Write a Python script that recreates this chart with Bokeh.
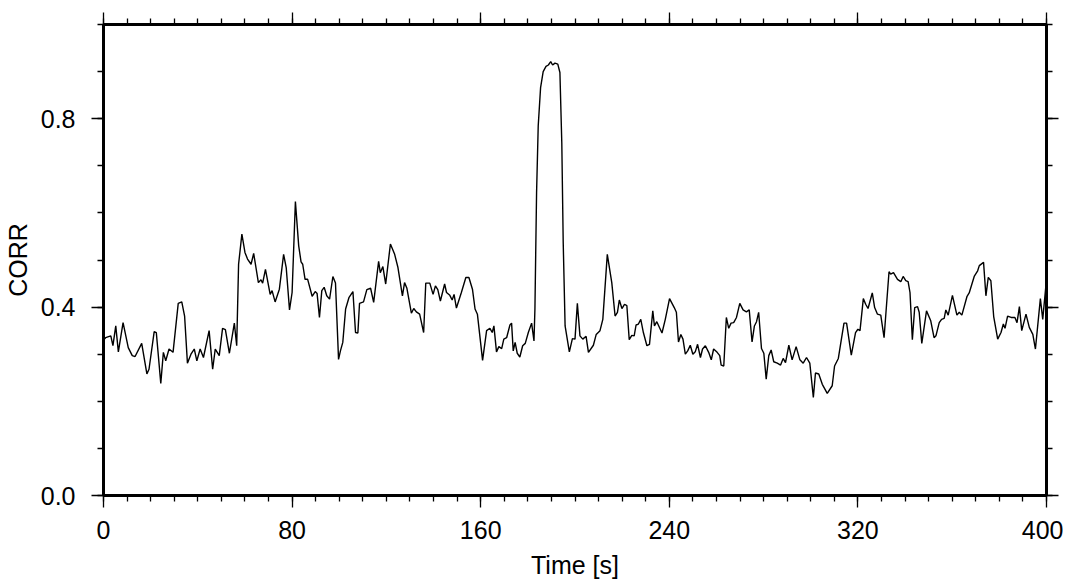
from bokeh.plotting import figure
from bokeh.models import Range1d, LinearAxis, FixedTicker, PrintfTickFormatter, CustomJSTickFormatter
from bokeh.embed import file_html
from bokeh.resources import INLINE

# Time [s]
time_s = [
    0.0, 0.9, 3.1, 4.0, 5.2, 6.3, 8.3, 10.5, 12.2, 13.4, 16.2, 18.4, 19.3, 21.5, 22.4, 24.3,
    25.4, 26.4, 27.8, 29.5, 31.7, 33.2, 34.4, 35.6, 37.1, 38.5, 39.6, 41.0, 42.4, 44.8, 46.3,
    47.4, 49.1, 50.5, 51.7, 53.4, 55.5, 56.5, 57.3, 58.7, 60.0, 61.1, 62.6, 63.7, 65.7, 66.8,
    67.5, 68.7, 70.7, 71.5, 72.8, 74.6, 76.4, 77.5, 78.9, 80.0, 81.4,
    82.8, 83.8, 84.5, 85.5, 86.6, 88.5, 89.8, 90.6, 91.6, 92.6, 93.6, 94.7, 95.9, 97.3, 98.4,
    99.7, 100.5, 101.5, 102.7, 104.1, 105.8, 106.9, 107.9, 108.6, 110.3, 111.7, 113.3, 114.6,
    116.7, 117.4, 118.5, 119.7, 121.7, 123.5, 124.9, 126.8, 127.7, 128.7, 130.6, 131.6, 132.7,
    134.1, 135.8, 136.7, 138.4, 139.8, 140.8, 141.8, 142.9, 144.7, 145.5, 146.9, 147.9, 148.7,
    149.7, 151.8, 153.7, 155.0, 156.5, 157.6, 158.6, 160.8,
    162.5, 163.9, 164.9, 165.6, 166.7, 167.7, 168.9, 169.8, 171.0, 172.4, 173.1, 173.8, 174.6,
    175.5, 176.6, 177.8, 178.9, 180.2, 181.6, 182.6, 183.0, 183.7, 184.4, 185.4, 186.5, 187.7,
    188.7, 189.7, 190.5, 191.5, 192.7, 193.6, 194.4, 195.0, 195.8, 197.6, 198.9, 200.0, 201.0,
    202.1, 203.3, 204.7, 205.7, 207.8, 209.0, 210.6, 211.8, 213.7, 215.6, 217.0, 218.0, 218.8,
    219.9, 221.0, 222.0, 223.0, 224.1, 225.1, 225.9, 226.9, 227.9, 229.0, 230.5, 231.6, 233.0,
    233.7, 234.7, 236.9, 238.3, 240.1,
    242.1, 243.0, 243.9, 244.9, 245.8, 246.8, 247.8, 248.9, 250.0, 251.0, 252.0, 253.2, 254.1,
    255.3, 256.7, 257.8, 258.8, 260.3, 261.4, 262.0, 263.1, 264.2, 265.2, 266.2, 267.3, 268.5,
    269.9, 271.3, 272.7, 273.9, 275.1, 276.1, 277.0, 277.9, 279.1, 280.1, 281.1, 282.2, 283.2,
    284.3, 285.8, 287.2, 288.3, 289.3, 290.7, 292.1, 293.8, 295.4, 296.8, 298.2, 299.6, 301.1,
    302.0, 303.4, 304.9, 307.0, 309.1, 310.1, 311.7, 313.0, 314.1, 315.2, 317.2, 319.0, 320.0,
    320.9, 322.3,
    323.3, 324.3, 326.1, 327.1, 328.3, 329.7, 331.1, 333.2, 333.9, 335.1, 336.8, 338.2, 339.2,
    340.3, 341.3, 342.1, 343.1, 344.1, 345.3, 346.0, 347.1, 349.1, 350.9, 352.3, 353.1, 354.5,
    355.5, 356.6, 357.3, 358.3, 360.1, 362.0, 363.0, 364.1, 366.3, 367.2, 369.4, 370.8, 371.5,
    373.3, 374.3, 375.3, 376.4, 377.6, 379.3, 380.7, 381.7, 382.4, 383.5, 385.0, 386.6, 387.5,
    388.5, 389.5, 391.3, 392.7, 394.2, 395.3, 397.4, 398.4, 400.0,
]

# CORR
corr = [
    0.330, 0.335, 0.339, 0.318, 0.360, 0.305, 0.367, 0.314, 0.297, 0.295, 0.323, 0.258, 0.268, 0.348, 0.346, 0.238,
    0.304, 0.286, 0.311, 0.304, 0.408, 0.411, 0.381, 0.281, 0.300, 0.311, 0.286, 0.311, 0.293, 0.350, 0.268,
    0.311, 0.297, 0.355, 0.352, 0.302, 0.366, 0.318, 0.491, 0.555, 0.516, 0.502, 0.491, 0.514, 0.452, 0.458,
    0.451, 0.480, 0.427, 0.435, 0.411, 0.438, 0.512, 0.484, 0.394, 0.431, 0.624,
    0.530, 0.496, 0.491, 0.459, 0.459, 0.423, 0.433, 0.429, 0.378, 0.435, 0.442, 0.424, 0.417, 0.465, 0.451,
    0.289, 0.307, 0.325, 0.396, 0.420, 0.433, 0.346, 0.345, 0.408, 0.411, 0.437, 0.440, 0.410,
    0.497, 0.473, 0.486, 0.449, 0.534, 0.512, 0.484, 0.424, 0.452, 0.440, 0.387, 0.397, 0.390,
    0.385, 0.346, 0.451, 0.451, 0.427, 0.445, 0.437, 0.413, 0.449, 0.431, 0.425, 0.415, 0.427,
    0.398, 0.431, 0.463, 0.463, 0.438, 0.396, 0.385, 0.287,
    0.350, 0.355, 0.346, 0.360, 0.305, 0.316, 0.312, 0.332, 0.335, 0.362, 0.366, 0.307, 0.325,
    0.302, 0.294, 0.318, 0.323, 0.346, 0.366, 0.328, 0.396, 0.643, 0.785, 0.866, 0.900, 0.911,
    0.914, 0.921, 0.914, 0.918, 0.916, 0.898, 0.749, 0.537, 0.360, 0.305, 0.333, 0.332, 0.408,
    0.339, 0.332, 0.338, 0.304, 0.319, 0.342, 0.350, 0.374, 0.512, 0.452, 0.381, 0.389, 0.415,
    0.397, 0.406, 0.403, 0.331, 0.340, 0.339, 0.362, 0.364, 0.374, 0.346, 0.318, 0.321, 0.392,
    0.360, 0.369, 0.345, 0.374, 0.418,
    0.399, 0.389, 0.326, 0.342, 0.332, 0.300, 0.307, 0.319, 0.300, 0.305, 0.321, 0.293, 0.311,
    0.318, 0.304, 0.288, 0.311, 0.304, 0.297, 0.277, 0.275, 0.378, 0.355, 0.366, 0.367, 0.378,
    0.408, 0.394, 0.390, 0.394, 0.326, 0.360, 0.369, 0.389, 0.312, 0.302, 0.247, 0.297, 0.309,
    0.284, 0.281, 0.277, 0.291, 0.282, 0.319, 0.288, 0.316, 0.288, 0.281, 0.293, 0.281, 0.208,
    0.260, 0.258, 0.236, 0.217, 0.233, 0.275, 0.291, 0.332, 0.366, 0.366, 0.298, 0.346, 0.353,
    0.350, 0.418,
    0.406, 0.397, 0.430, 0.399, 0.385, 0.383, 0.335, 0.475, 0.470, 0.473, 0.459, 0.454, 0.465,
    0.456, 0.454, 0.431, 0.331, 0.399, 0.401, 0.389, 0.323, 0.392, 0.371, 0.335, 0.339, 0.367,
    0.374, 0.376, 0.394, 0.383, 0.425, 0.383, 0.389, 0.383, 0.423, 0.430, 0.466, 0.477, 0.488,
    0.495, 0.424, 0.463, 0.456, 0.380, 0.332, 0.346, 0.364, 0.355, 0.381, 0.378, 0.378, 0.367,
    0.401, 0.350, 0.385, 0.357, 0.342, 0.311, 0.418, 0.374, 0.459,
]

x_major = [0, 80, 160, 240, 320, 400]
x_minor = list(range(0, 401, 10))
y_major = [0.0, 0.4, 0.8]
y_minor = [i / 10 for i in range(0, 11)]

FONT = "Liberation Sans"

p = figure(
    frame_width=943, frame_height=471,
    x_range=Range1d(0, 400), y_range=Range1d(0, 1.0),
    output_backend="svg", toolbar_location=None,
    min_border_left=96, min_border_right=17, min_border_top=24, min_border_bottom=80,
    background_fill_color="white", border_fill_color="white",
)
p.xgrid.visible = False
p.ygrid.visible = False
p.outline_line_color = "black"
p.outline_line_width = 3

p.line(time_s, corr, line_color="black", line_width=1.4)

bottom = p.below[0]
left = p.left[0]
top = LinearAxis()
right = LinearAxis()
p.add_layout(top, "above")
p.add_layout(right, "right")

for ax in [bottom, top]:
    ax.ticker = FixedTicker(ticks=x_major, minor_ticks=x_minor)
for ax in [left, right]:
    ax.ticker = FixedTicker(ticks=y_major, minor_ticks=y_minor)

for ax in [bottom, left, top, right]:
    ax.axis_line_color = "black"
    ax.axis_line_width = 3
    ax.major_tick_in = 0
    ax.major_tick_out = 12
    ax.minor_tick_in = 0
    ax.minor_tick_out = 6
    ax.major_tick_line_width = 1.3
    ax.minor_tick_line_width = 1.3
    ax.major_tick_line_color = "black"
    ax.minor_tick_line_color = "black"
    ax.major_label_text_font = FONT
    ax.major_label_text_font_size = "25px"
    ax.major_label_text_color = "black"
    ax.axis_label_text_font = FONT
    ax.axis_label_text_font_size = "25px"
    ax.axis_label_text_font_style = "normal"
    ax.axis_label_text_color = "black"

for ax in [top, right]:
    ax.formatter = CustomJSTickFormatter(code="return ''")
    ax.major_label_standoff = 0

bottom.formatter = PrintfTickFormatter(format="%d")
bottom.major_label_standoff = 13
left.formatter = PrintfTickFormatter(format="%.1f")
left.major_label_standoff = 16
bottom.axis_label = "Time [s]"
bottom.axis_label_standoff = 9
left.axis_label = "CORR"
left.axis_label_standoff = 6

open("out.html", "w").write(file_html(p, INLINE))
